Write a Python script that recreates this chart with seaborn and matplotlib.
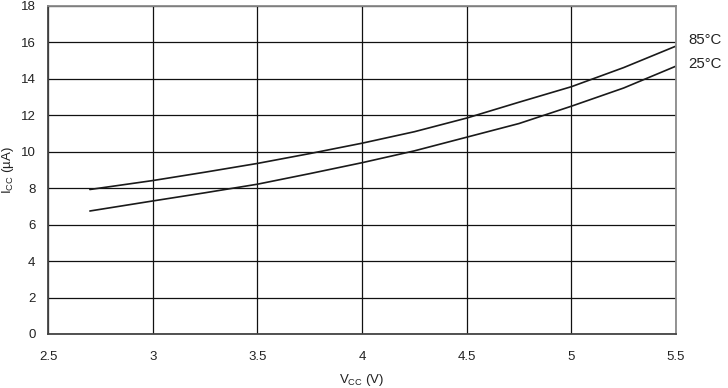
import matplotlib
matplotlib.use("Agg")
import matplotlib.pyplot as plt
import seaborn as sns
import pandas as pd

vcc = [2.7, 3.0, 3.25, 3.5, 3.75, 4.0, 4.25, 4.5, 4.75, 5.0, 5.25, 5.5]
icc_85 = [7.93, 8.42, 8.88, 9.36, 9.9, 10.47, 11.1, 11.85, 12.72, 13.57, 14.62, 15.8]
icc_25 = [6.75, 7.3, 7.75, 8.22, 8.8, 9.4, 10.05, 10.8, 11.55, 12.5, 13.5, 14.7]
labels = ["85°C", "25°C"]
xticks = [2.5, 3, 3.5, 4, 4.5, 5, 5.5]
xtick_labels = ["2.5", "3", "3.5", "4", "4.5", "5", "5.5"]
yticks = [0, 2, 4, 6, 8, 10, 12, 14, 16, 18]

sns.set_theme(style="white")
plt.rcParams["font.family"] = ["Liberation Sans", "DejaVu Sans"]
plt.rcParams["mathtext.fontset"] = "custom"
plt.rcParams["mathtext.rm"] = "Liberation Sans"

df = pd.concat([
    pd.DataFrame({"Vcc": vcc, "Icc": icc_85, "T": labels[0]}),
    pd.DataFrame({"Vcc": vcc, "Icc": icc_25, "T": labels[1]}),
])

fig = plt.figure(figsize=(7.28, 3.88), dpi=100)
ax = fig.add_axes([48 / 728, 54 / 388, 628 / 728, 328 / 388])
sns.lineplot(data=df, x="Vcc", y="Icc", units="T", estimator=None,
             color="#1a1a1a", linewidth=1.2, ax=ax, legend=False)

ax.set_xlim(2.5, 5.5)
ax.set_ylim(0, 18)
ax.set_xticks(xticks)
ax.set_xticklabels(xtick_labels)
ax.set_yticks(yticks)
ax.grid(True, color="#111111", linewidth=0.9)
ax.tick_params(axis="both", length=0, labelsize=9.5, colors="#222222")
ax.tick_params(axis="x", pad=12)
ax.tick_params(axis="y", pad=9)

for side in ["top", "right"]:
    ax.spines[side].set_color("#8a8a8a")
    ax.spines[side].set_linewidth(1.3)
for side in ["left", "bottom"]:
    ax.spines[side].set_color("#444444")
    ax.spines[side].set_linewidth(1.3)

ax.set_xlabel(r"V$_{\mathregular{CC}}$ (V)", fontsize=9.5, color="#222222")
ax.set_ylabel(r"I$_{\mathregular{CC}}$ (µA)", fontsize=9.5, color="#222222")
ax.xaxis.set_label_coords((362 - 48) / 628, -(380 - 334) / 328)
ax.yaxis.set_label_coords(-(48 - 8) / 628, (334 - 170) / 328)
ax.xaxis.label.set_va("center")
ax.yaxis.label.set_va("center")

ax.text(1.02, (334 - 40) / 328, labels[0], transform=ax.transAxes,
        fontsize=10.8, color="#222222", va="center", ha="left")
ax.text(1.02, (334 - 64) / 328, labels[1], transform=ax.transAxes,
        fontsize=10.8, color="#222222", va="center", ha="left")

fig.savefig("out.png", dpi=100)
